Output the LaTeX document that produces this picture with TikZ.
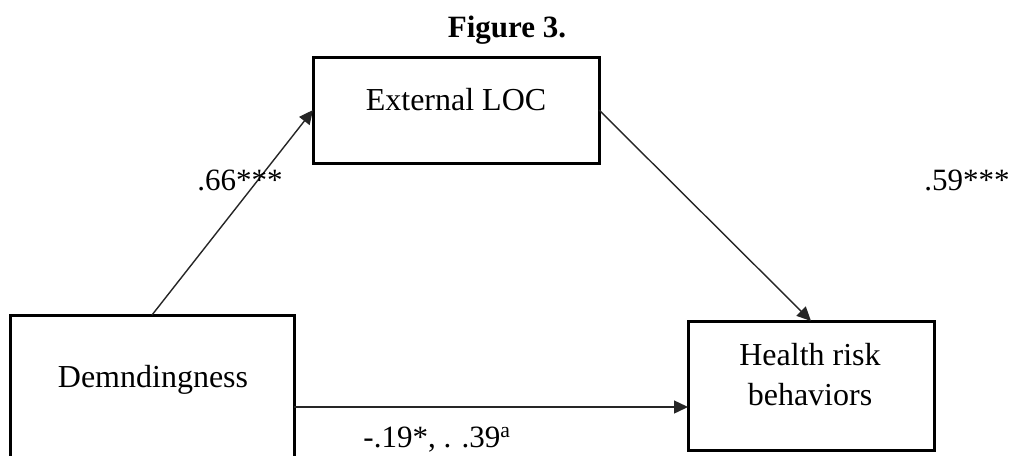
\documentclass[tikz,border=0pt]{standalone}
\usepackage{fontspec}
\setmainfont{Liberation Serif}
\usetikzlibrary{arrows.meta}
\begin{document}
\begin{tikzpicture}[x=1pt,y=-1pt,
  varbox/.style={draw=black, line width=3pt, rectangle, inner sep=0pt, outer sep=0pt},
  boxtext/.style={font=\fontsize{32}{40}\selectfont, inner sep=0pt, anchor=base},
  coef/.style={font=\fontsize{31}{40}\selectfont, inner sep=0pt, anchor=base},
  path/.style={draw=black!85, line width=1.4pt, -{Triangle[length=14pt,width=13pt]}}]
\useasboundingbox (0,0) rectangle (1011,455);
\clip (0,0) rectangle (1011,455);
\fill[white] (0,0) rectangle (1011,455);
% title
\node[font=\fontsize{31}{40}\selectfont\bfseries, inner sep=0pt, anchor=base] (title) at (507,37) {Figure 3.};
% boxes
\node[varbox, minimum width=286pt, minimum height=106pt] (ext) at (456,110) {};
\node[varbox, minimum width=284pt, minimum height=184pt] (dem) at (152,407) {};
\node[varbox, minimum width=246pt, minimum height=129pt] (hlth) at (811,385.5) {};
% box texts
\node[boxtext] (extt) at (456,110) {External LOC};
\node[boxtext] (demt) at (153,387) {Demndingness};
\node[boxtext, anchor=center, align=center] (hltht) at (810,375) {Health risk\\behaviors};
% paths
\draw[path] (dem.north) -- (ext.west);
\draw[path] (ext.east) -- (hlth.north);
\draw[path] (dem.east) -- (dem.east -| hlth.west);
% coefficients
\node[coef] (c1) at (240,190) {.66***};
\node[coef] (c2) at (967,190) {.59***};
\node[coef] (c3) at (437,447) {-.19*, . .39\textsuperscript{a}};
\end{tikzpicture}
\end{document}
